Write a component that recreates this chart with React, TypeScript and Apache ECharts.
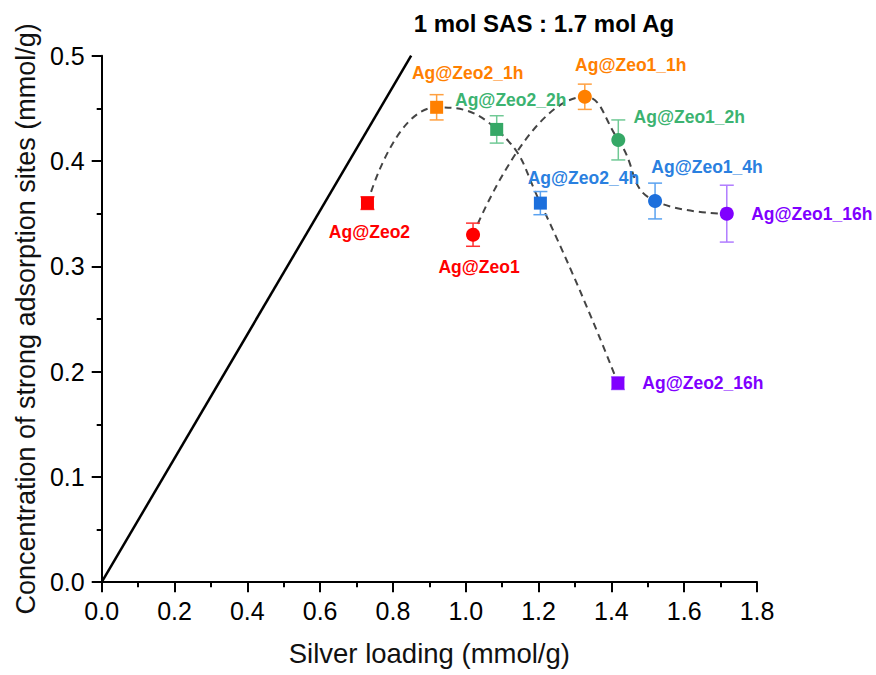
import React, { useEffect, useRef } from "react";
import * as echarts from "echarts";

// ---- data ----
const zeo2Names = ["Ag@Zeo2", "Ag@Zeo2_1h", "Ag@Zeo2_2h", "Ag@Zeo2_4h", "Ag@Zeo2_16h"];
const zeo2X = [0.73, 0.92, 1.085, 1.205, 1.418];
const zeo2Y = [0.36, 0.451, 0.43, 0.36, 0.189];
const zeo2Err = [0.006, 0.012, 0.013, 0.011, 0.006];

const zeo1Names = ["Ag@Zeo1", "Ag@Zeo1_1h", "Ag@Zeo1_2h", "Ag@Zeo1_4h", "Ag@Zeo1_16h"];
const zeo1X = [1.02, 1.327, 1.419, 1.52, 1.717];
const zeo1Y = [0.33, 0.461, 0.42, 0.362, 0.35];
const zeo1Err = [0.011, 0.012, 0.019, 0.017, 0.027];

const stoichX = [0, 0.85];
const stoichY = [0, 0.5];

const titleText = "1 mol SAS : 1.7 mol Ag";
const xName = "Silver loading (mmol/g)";
const yName = "Concentration of strong adsorption sites (mmol/g)";

// ---- styles ----
const markerColors = ["#FF0000", "#FF8000", "#35A866", "#1C6FDC", "#8000FF"];
const labelColors = ["#FF0000", "#FF8000", "#3CB371", "#2A80E0", "#8000FF"];
const errColors = ["#FF3030", "#FFA040", "#70C995", "#5AA2F0", "#B07CFF"];
const zeo2Offsets = [
  [2, 29],
  [31, -34],
  [14, -29],
  [43, -25],
  [85, 0],
];
const zeo1Offsets = [
  [6, 32],
  [46, -32],
  [71, -23],
  [52, -34],
  [85, 0],
];
const FONT = "Liberation Sans, Arial, sans-serif";

function pointData(xs: number[], ys: number[], names: string[], offsets: number[][]) {
  return xs.map((x, i) => ({
    value: [x, ys[i]],
    name: names[i],
    itemStyle: { color: markerColors[i], opacity: 1 },
    label: {
      show: true,
      formatter: names[i],
      position: "inside",
      offset: offsets[i],
      color: labelColors[i],
      fontSize: 17.5,
      fontWeight: "bold",
      fontFamily: FONT,
    },
  }));
}

function errData(xs: number[], ys: number[], errs: number[]) {
  return xs.map((x, i) => [x, ys[i] - errs[i], ys[i] + errs[i]]);
}

function errSeries(xs: number[], ys: number[], errs: number[]) {
  return {
    type: "custom",
    data: errData(xs, ys, errs),
    z: 3,
    renderItem: (params: any, api: any) => {
      const x = api.value(0);
      const lo = api.value(1);
      const hi = api.value(2);
      const top = api.coord([x, hi]);
      const bot = api.coord([x, lo]);
      const hw = 7;
      const style = { stroke: errColors[params.dataIndex], lineWidth: 1.5 };
      return {
        type: "group",
        children: [
          { type: "line", shape: { x1: top[0], y1: top[1], x2: bot[0], y2: bot[1] }, style },
          { type: "line", shape: { x1: top[0] - hw, y1: top[1], x2: top[0] + hw, y2: top[1] }, style },
          { type: "line", shape: { x1: bot[0] - hw, y1: bot[1], x2: bot[0] + hw, y2: bot[1] }, style },
        ],
      };
    },
  };
}

export default function App() {
  const ref = useRef<HTMLDivElement>(null);
  useEffect(() => {
    if (!ref.current) return;
    const chart = echarts.init(ref.current, undefined, { renderer: "svg" });
    const axisCommon = {
      type: "value",
      splitLine: { show: false },
      axisLine: { show: true, onZero: false, lineStyle: { color: "#000", width: 2 } },
      axisTick: { show: true, inside: false, length: 10, lineStyle: { color: "#000", width: 2 } },
      minorTick: { show: true, splitNumber: 2, length: 5, lineStyle: { color: "#000", width: 2 } },
      axisLabel: {
        color: "#000",
        fontSize: 25,
        fontFamily: FONT,
        formatter: (v: number) => v.toFixed(1),
      },
      nameLocation: "middle",
      nameTextStyle: { color: "#111", fontSize: 27.5, fontFamily: FONT },
    };
    chart.setOption({
      animation: false,
      backgroundColor: "#fff",
      grid: { left: 101.7, right: 119, top: 55.7, bottom: 92.8, containLabel: false },
      xAxis: {
        ...axisCommon,
        min: 0,
        max: 1.8,
        interval: 0.2,
        name: xName,
        nameGap: 57,
        axisLabel: { ...axisCommon.axisLabel, margin: 16 },
      },
      yAxis: {
        ...axisCommon,
        min: 0,
        max: 0.5,
        interval: 0.1,
        name: yName,
        nameGap: 56,
        nameTextStyle: { color: "#111", fontSize: 27, fontFamily: FONT },
        axisLabel: { ...axisCommon.axisLabel, margin: 17 },
      },
      graphic: [
        {
          type: "text",
          x: 544,
          y: 23,
          style: {
            text: titleText,
            textAlign: "center",
            textVerticalAlign: "middle",
            fontSize: 24,
            fontWeight: "bold",
            fontFamily: FONT,
            fill: "#000",
          },
        },
      ],
      series: [
        {
          type: "line",
          data: stoichX.map((x, i) => [x, stoichY[i]]),
          showSymbol: false,
          lineStyle: { color: "#000", width: 2.5 },
          z: 2,
        },
        {
          type: "line",
          data: zeo2X.map((x, i) => [x, zeo2Y[i]]),
          smooth: 0.5,
          showSymbol: false,
          lineStyle: { color: "#444", width: 2, type: [7, 5] },
          z: 2,
        },
        {
          type: "line",
          data: zeo1X.map((x, i) => [x, zeo1Y[i]]),
          smooth: 0.5,
          showSymbol: false,
          lineStyle: { color: "#444", width: 2, type: [7, 5] },
          z: 2,
        },
        errSeries(zeo2X, zeo2Y, zeo2Err),
        errSeries(zeo1X, zeo1Y, zeo1Err),
        {
          type: "scatter",
          symbol: "rect",
          symbolSize: 13,
          itemStyle: { opacity: 1 },
          data: pointData(zeo2X, zeo2Y, zeo2Names, zeo2Offsets),
          z: 4,
        },
        {
          type: "scatter",
          symbol: "circle",
          symbolSize: 14,
          itemStyle: { opacity: 1 },
          data: pointData(zeo1X, zeo1Y, zeo1Names, zeo1Offsets),
          z: 4,
        },
      ],
    });
    return () => chart.dispose();
  }, []);
  return (
    <div
      ref={ref}
      style={{ position: "fixed", left: 0, top: 0, width: 876, height: 675 }}
    />
  );
}
